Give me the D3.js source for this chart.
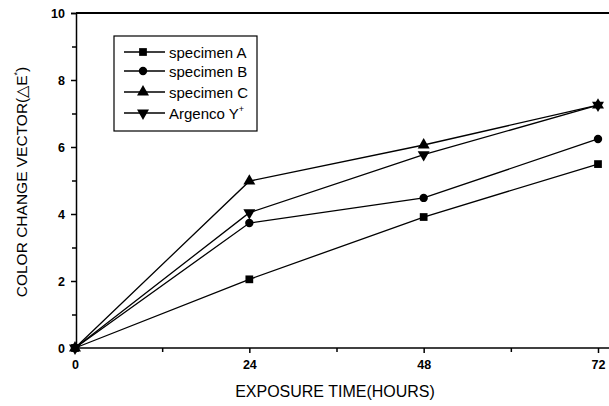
<!DOCTYPE html>
<html>
  <head>
    <meta charset="utf-8">
    <title>Color change vector</title>
    <script src="https://d3js.org/d3.v7.min.js"></script>
    <style>
      body { margin: 0; background: #fff; }
      text { font-family: Arial, "Liberation Sans", sans-serif; fill: #000; }
    </style>
  </head>
  <body>
    <svg id="chart" width="609" height="406"></svg>
    <script>
      // data
      var hours = [0, 24, 48, 72];
      var specimenA = [0, 2.05, 3.91, 5.49];
      var specimenB = [0, 3.73, 4.48, 6.24];
      var specimenC = [0, 4.98, 6.06, 7.25];
      var argenco = [0, 4.04, 5.77, 7.25];
      var seriesNames = ["specimen A", "specimen B", "specimen C", "Argenco Y"];
      var seriesSymbols = ["square", "circle", "triangle", "triangleDown"];
      var xTicks = [0, 24, 48, 72];
      var yTicks = [0, 2, 4, 6, 8, 10];

      var seriesValues = [specimenA, specimenB, specimenC, argenco];
      var series = seriesNames.map(function(name, i) {
        return { name: name, symbol: seriesSymbols[i], points: hours.map(function(h, j) { return [h, seriesValues[i][j]]; }) };
      });

      var margin = { left: 76, top: 13, right: 0, bottom: 58 };
      var width = 609, height = 406;
      var svg = d3.select("#chart");

      var x = d3.scaleLinear().domain([0, 72]).range([75, 598]);
      var y = d3.scaleLinear().domain([0, 10]).range([height - margin.bottom, margin.top]);

      // frame line on top runs to the right edge
      svg.append("line").attr("x1", margin.left).attr("x2", width)
        .attr("y1", y(10)).attr("y2", y(10)).attr("stroke", "#000").attr("stroke-width", 2);

      var xAxis = d3.axisBottom(x).tickValues(xTicks).tickSize(5).tickPadding(7);
      var xMinor = d3.axisBottom(x).tickValues([12, 36, 60]).tickSize(4).tickFormat("");
      var yAxis = d3.axisLeft(y).tickValues(yTicks).tickSize(5).tickPadding(6);
      var yMinor = d3.axisLeft(y).tickValues([1, 3, 5, 7, 9]).tickSize(4).tickFormat("");

      var gx = svg.append("g").attr("transform", "translate(0," + y(0) + ")").call(xAxis);
      svg.append("g").attr("transform", "translate(0," + y(0) + ")").call(xMinor).select(".domain").remove();
      gx.select(".domain").attr("d", "M" + margin.left + ",0H" + width).attr("stroke-width", 1.5);
      var gy = svg.append("g").attr("transform", "translate(" + margin.left + ",0)").call(yAxis);
      svg.append("g").attr("transform", "translate(" + margin.left + ",0)").call(yMinor).select(".domain").remove();
      gy.select(".domain").attr("stroke-width", 1.5);
      svg.selectAll(".tick line").attr("stroke-width", 1.5);
      svg.selectAll(".tick text").attr("font-weight", "bold").attr("font-size", 12.5)
        .attr("font-family", "Arial, 'Liberation Sans', sans-serif");

      // axis titles
      svg.append("text").attr("x", 335).attr("y", 397).attr("text-anchor", "middle")
        .attr("font-size", 16).text("EXPOSURE TIME(HOURS)");
      var yTitle = svg.append("text").attr("transform", "translate(27,182) rotate(-90)")
        .attr("text-anchor", "middle").attr("font-size", 15.5);
      yTitle.append("tspan").text("COLOR CHANGE VECTOR(\u25B3E");
      yTitle.append("tspan").attr("dy", -7).attr("font-size", 9).text("*");
      yTitle.append("tspan").attr("dy", 7).text(")");

      var line = d3.line().x(function(d) { return x(d[0]); }).y(function(d) { return y(d[1]); });

      function symbolPath(kind) {
        if (kind === "square") return d3.symbol(d3.symbolSquare, 60)();
        if (kind === "circle") return d3.symbol(d3.symbolCircle, 55)();
        return d3.symbol(d3.symbolTriangle, 62)();
      }
      function symbolRotate(kind) { return kind === "triangleDown" ? " rotate(180)" : ""; }

      var groups = svg.append("g").selectAll("g").data(series).join("g");
      groups.append("path").attr("d", function(d) { return line(d.points); })
        .attr("fill", "none").attr("stroke", "#000").attr("stroke-width", 1.3);
      groups.selectAll(".mark").data(function(d) { return d.points.map(function(p) { return { p: p, kind: d.symbol }; }); })
        .join("path").attr("class", "mark")
        .attr("d", function(d) { return symbolPath(d.kind); })
        .attr("transform", function(d) { return "translate(" + x(d.p[0]) + "," + y(d.p[1]) + ")" + symbolRotate(d.kind); })
        .attr("fill", "#000");

      // legend
      var legend = svg.append("g");
      legend.append("rect").attr("x", 114).attr("y", 36).attr("width", 143).attr("height", 95)
        .attr("fill", "#fff").attr("stroke", "#000").attr("stroke-width", 1.2);
      var rowY = [52, 71, 92, 113];
      var rows = legend.selectAll(".row").data(series).join("g").attr("class", "row")
        .attr("transform", function(d, i) { return "translate(0," + rowY[i] + ")"; });
      rows.append("line").attr("x1", 124).attr("x2", 165).attr("stroke", "#000").attr("stroke-width", 1.3);
      rows.append("path").attr("d", function(d) { return symbolPath(d.symbol); })
        .attr("transform", function(d) { return "translate(143,0)" + symbolRotate(d.symbol); });
      var labels = rows.append("text").attr("x", 169).attr("y", 5.5).attr("font-size", 15)
        .text(function(d) { return d.name; });
      labels.filter(function(d) { return d.symbol === "triangleDown"; })
        .append("tspan").attr("dy", -7).attr("font-size", 9).text("+");
    </script>
  </body>
</html>
